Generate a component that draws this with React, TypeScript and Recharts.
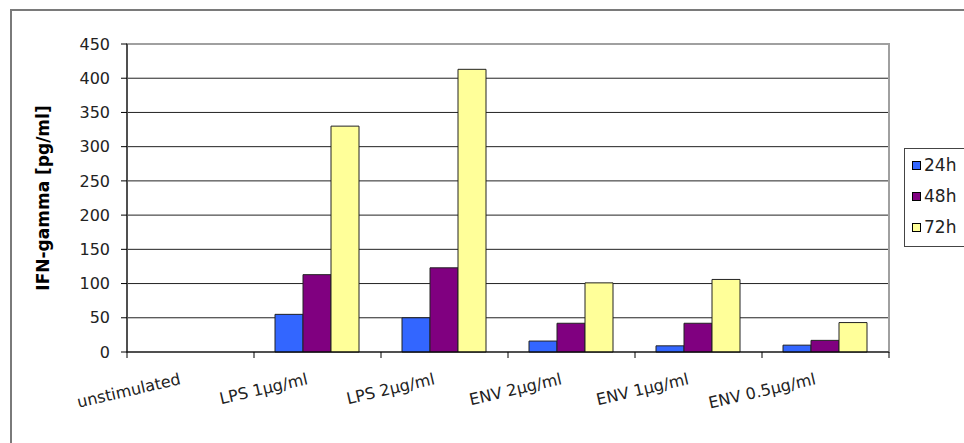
import React from "react";
import { Bar, BarChart, CartesianGrid, Legend, ReferenceArea, XAxis, YAxis } from "recharts";

const categories = ["unstimulated", "LPS 1µg/ml", "LPS 2µg/ml", "ENV 2µg/ml", "ENV 1µg/ml", "ENV 0.5µg/ml"];
const h24 = [0, 55, 50, 16, 9, 10];
const h48 = [0, 113, 123, 42, 42, 17];
const h72 = [0, 330, 413, 101, 106, 43];
const yTicks = [0, 50, 100, 150, 200, 250, 300, 350, 400, 450];
const series = [
  { key: "h24", name: "24h", color: "#3366ff" },
  { key: "h48", name: "48h", color: "#800080" },
  { key: "h72", name: "72h", color: "#ffff99" },
];

const data = categories.map((name, i) => ({ name, h24: h24[i], h48: h48[i], h72: h72[i] }));

const FONT = "'DejaVu Sans', Arial, sans-serif";
const PLOT_LEFT = 127;
const PLOT_RIGHT = 889;
const PLOT_BOTTOM = 352;
const BAND = (PLOT_RIGHT - PLOT_LEFT) / categories.length;

function XTick(props: any) {
  const { x, payload, index } = props;
  const ax = x - 9;
  const ay = PLOT_BOTTOM + 32;
  return (
    <g>
      <line x1={x - BAND / 2} x2={x - BAND / 2} y1={PLOT_BOTTOM} y2={PLOT_BOTTOM + 6} stroke="#000" />
      {index === categories.length - 1 && (
        <line x1={x + BAND / 2} x2={x + BAND / 2} y1={PLOT_BOTTOM} y2={PLOT_BOTTOM + 6} stroke="#000" />
      )}
      <text x={ax} y={ay} textAnchor="end" transform={`rotate(-13, ${ax}, ${ay})`} fontFamily={FONT} fontSize={16} fill="#222">
        {payload.value}
      </text>
    </g>
  );
}

function yLabel() {
  return (
    <text x={43} y={198} transform="rotate(-90, 43, 198)" textAnchor="middle" dominantBaseline="central"
      fontFamily={FONT} fontSize={17} fontWeight="bold" fill="#000">
      IFN-gamma [pg/ml]
    </text>
  );
}

function LegendBox() {
  return (
    <div style={{ border: "1.5px solid #444", background: "#fff", width: 90, padding: "4px 0 0 7px", fontFamily: FONT, fontSize: 17, color: "#222" }}>
      {series.map((s) => (
        <div key={s.key} style={{ display: "flex", alignItems: "center", height: 24, marginBottom: 7 }}>
          <span style={{ display: "inline-block", width: 7, height: 7, background: s.color, border: "1px solid #000", marginRight: 3 }} />
          <span>{s.name}</span>
        </div>
      ))}
    </div>
  );
}

export default function App() {
  return (
    <div style={{ position: "fixed", left: 0, top: 0, width: 964, height: 443, overflow: "hidden", background: "#fff" }}>
      <div style={{ position: "absolute", left: 10, top: 9, width: 1100, height: 1000, border: "2px solid #7a7a7a" }} />
      <BarChart width={964} height={443} data={data} margin={{ top: 44, right: 75, bottom: 31, left: 47 }}
        barCategoryGap={21} barGap={0}>
        <CartesianGrid vertical={false} stroke="#222" />
        <ReferenceArea y1={0} y2={450} fill="none" stroke="#a0a0a0" strokeWidth={2} ifOverflow="visible" />
        <XAxis dataKey="name" height={60} tickLine={false} axisLine={{ stroke: "#000" }} tick={<XTick />} interval={0} />
        <YAxis width={80} domain={[0, 450]} ticks={yTicks} interval={0} tickSize={6} tickMargin={11}
          axisLine={{ stroke: "#000" }} tickLine={{ stroke: "#000" }}
          tick={{ fontFamily: FONT, fontSize: 16, fill: "#222" }} label={yLabel} />
        <Legend layout="vertical" align="center" verticalAlign="middle" content={<LegendBox />}
          wrapperStyle={{ left: 904, top: 148, width: 100 }} />
        {series.map((s) => (
          <Bar key={s.key} dataKey={s.key} name={s.name} fill={s.color} stroke="#222" strokeWidth={1} isAnimationActive={false} />
        ))}
      </BarChart>
    </div>
  );
}
